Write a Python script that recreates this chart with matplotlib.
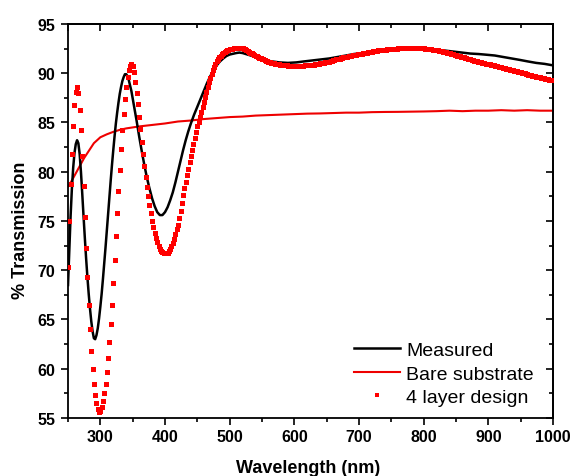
#!/usr/bin/env python3
""" Transmission spectra: measured coating, bare substrate and 4 layer design """

import numpy as np
import matplotlib
matplotlib.use("Agg")
import matplotlib.pyplot as plt
from matplotlib.ticker import MultipleLocator

# measured spectrum (black line)
measured_wl = [250, 252, 254, 256, 258, 260, 262, 264, 266, 268, 270, 272, 274, 276, 278,
               280, 282, 284, 286, 288, 290, 292, 294, 296, 298, 300, 302, 304, 306, 308,
               310, 312, 314, 316, 318, 320, 322, 324, 326, 328, 330, 332, 334, 336, 338,
               340, 342, 344, 348, 352, 356, 360, 364, 368, 372, 376, 380, 384, 388, 392,
               396, 400, 404, 408, 412, 416, 420, 424, 428, 432, 436, 440, 445, 450, 455,
               460, 465, 470, 475, 480, 485, 490, 495, 500, 510, 515, 520, 530, 540, 550,
               560, 577, 590, 603, 615, 628, 641, 654, 667, 680, 692, 705, 718, 731, 744,
               756, 769, 782, 795, 808, 820, 833, 846, 859, 872, 885, 897, 910, 923, 936,
               949, 961, 974, 987, 1000]
measured_t = [68.5, 72.0, 75.5, 78.3, 80.4, 81.9, 82.8, 83.2, 82.9, 81.8, 80.0, 77.8, 75.5, 73.3, 71.2,
              69.3, 67.6, 66.1, 64.8, 63.8, 63.1, 63.0, 63.4, 64.1, 65.1, 66.3, 67.6, 69.1, 70.7, 72.3,
              74.0, 75.7, 77.4, 79.1, 80.7, 82.2, 83.6, 84.9, 86.0, 87.0, 87.9, 88.6, 89.2, 89.6, 89.9,
              89.9, 89.7, 89.3, 88.2, 86.7, 85.2, 83.6, 82.1, 80.7, 79.4, 78.3, 77.3, 76.5, 75.9, 75.6,
              75.6, 75.9, 76.4, 77.1, 77.9, 78.9, 80.0, 81.1, 82.2, 83.2, 84.1, 84.9, 85.8, 86.6, 87.4,
              88.2, 89.0, 89.7, 90.3, 90.8, 91.2, 91.5, 91.75, 91.9, 92.05, 92.1, 92.05, 91.85, 91.65, 91.4,
              91.25, 91.1, 91.05, 91.1, 91.2, 91.3, 91.4, 91.5, 91.65, 91.8, 91.95, 92.05, 92.2, 92.3, 92.35,
              92.4, 92.45, 92.45, 92.45, 92.4, 92.35, 92.3, 92.2, 92.1, 92.0, 91.95, 91.88, 91.8, 91.65, 91.5,
              91.35, 91.2, 91.05, 90.95, 90.8]

# bare substrate (red line)
bare_wl = [250, 255, 260, 265, 270, 275, 280, 285, 290, 295, 300, 310, 320, 330, 340, 350,
           360, 380, 400, 420, 440, 460, 480, 500, 520, 540, 560, 580, 600, 620, 640, 660,
           680, 700, 720, 740, 760, 780, 800, 820, 840, 860, 880, 900, 920, 940, 960, 980, 1000]
bare_t = [78.5, 79.0, 79.6, 80.2, 80.8, 81.4, 81.9, 82.4, 82.9, 83.2, 83.5, 83.8, 84.05, 84.25, 84.4, 84.5,
          84.6, 84.75, 84.9, 85.1, 85.2, 85.35, 85.45, 85.55, 85.6, 85.7, 85.75, 85.8, 85.85, 85.9, 85.92, 85.96,
          86.0, 86.0, 86.05, 86.07, 86.08, 86.1, 86.12, 86.15, 86.2, 86.15, 86.2, 86.2, 86.25, 86.2, 86.25, 86.2, 86.2]

# 4 layer design (red squares), one point every 2 nm
design_wl = np.arange(250, 1001, 2)
design_t = [70.3, 75.0, 78.8, 81.8, 84.6, 86.8, 88.1, 88.6, 88.0, 86.3,   # 250-268
            84.2, 81.6, 78.6, 75.4, 72.3, 69.3, 66.5, 64.0, 61.8, 60.0,   # 270-288
            58.5, 57.3, 56.5, 55.9, 55.6, 55.7, 56.1, 56.7, 57.5, 58.5,   # 290-308
            59.7, 61.1, 62.7, 64.5, 66.5, 68.7, 71.0, 73.5, 75.8, 78.0,   # 310-328
            80.2, 82.3, 84.2, 85.9, 87.4, 88.6, 89.6, 90.3, 90.7, 90.9,   # 330-348
            90.7, 90.1, 89.1, 88.0, 86.9, 85.6, 84.3, 83.0, 81.8, 80.6,   # 350-368
            79.5, 78.5, 77.5, 76.6, 75.8, 75.0, 74.4, 73.8, 73.3, 72.9,   # 370-388
            72.5, 72.2, 72.0, 71.9, 71.8, 71.75, 71.75, 71.8, 72.0, 72.2,  # 390-408
            72.5, 72.8, 73.2, 73.7, 74.2, 74.6, 75.3, 76.0, 76.8, 77.6,   # 410-428
            78.3, 79.0, 79.7, 80.3, 81.0, 81.6, 82.2, 82.8, 83.4, 84.0,   # 430-448
            84.6, 85.1, 85.6, 86.1, 86.6, 87.1, 87.6, 88.1, 88.6, 89.1,   # 450-468
            89.5, 89.9, 90.3, 90.6, 90.9, 91.2, 91.4, 91.6, 91.8, 91.95,  # 470-488
            92.1, 92.2, 92.3, 92.35, 92.4,                                # 490-498
            92.45, 92.48, 92.5, 92.53, 92.55, 92.58, 92.6, 92.6, 92.6, 92.58,     # 500-518
            92.55, 92.5, 92.45, 92.38, 92.3, 92.2, 92.1, 92.03, 91.95, 91.88,     # 520-538
            91.8, 91.73, 91.65, 91.58, 91.5, 91.45, 91.4, 91.33, 91.25, 91.2,     # 540-558
            91.15, 91.1, 91.05, 91.02, 91.0, 90.97, 90.95, 90.92, 90.9, 90.87,    # 560-578
            90.85, 90.82, 90.8, 90.8, 90.8, 90.78, 90.75, 90.75, 90.75, 90.75,    # 580-598
            90.75, 90.75, 90.75, 90.75, 90.75, 90.75, 90.75, 90.75, 90.8, 90.8,   # 600-618
            90.8, 90.82, 90.85, 90.85, 90.85, 90.88, 90.9, 90.92, 90.95, 90.97,   # 620-638
            91.0, 91.02, 91.05, 91.07, 91.1, 91.12, 91.15, 91.17, 91.2, 91.25,    # 640-658
            91.3, 91.35, 91.4, 91.42, 91.45, 91.47, 91.5, 91.55, 91.6, 91.62,     # 660-678
            91.65, 91.67, 91.7, 91.75, 91.8, 91.82, 91.85, 91.87, 91.9, 91.92,    # 680-698
            91.95, 91.97, 92.0, 92.02, 92.05, 92.07, 92.1, 92.12, 92.15, 92.17,   # 700-718
            92.2, 92.22, 92.25, 92.27, 92.3, 92.31, 92.33, 92.34, 92.36, 92.38,   # 720-738
            92.4, 92.41, 92.43, 92.44, 92.46, 92.47, 92.48, 92.49, 92.5, 92.51,   # 740-758
            92.52, 92.53, 92.54, 92.54, 92.55, 92.55, 92.56, 92.56, 92.57, 92.57,  # 760-778
            92.57, 92.57, 92.57, 92.56, 92.56, 92.55, 92.55, 92.54, 92.54, 92.53,  # 780-798
            92.52, 92.51, 92.5, 92.48, 92.47, 92.45, 92.43, 92.41, 92.39, 92.36,  # 800-818
            92.34, 92.31, 92.29, 92.26, 92.23, 92.2, 92.17, 92.13, 92.1, 92.06,   # 820-838
            92.03, 91.99, 91.95, 91.91, 91.88, 91.84, 91.8, 91.76, 91.72, 91.68,  # 840-858
            91.64, 91.6, 91.56, 91.52, 91.48, 91.44, 91.4, 91.36, 91.32, 91.28,   # 860-878
            91.25, 91.21, 91.18, 91.14, 91.1, 91.07, 91.04, 91.01, 90.98, 90.95,  # 880-898
            90.92, 90.89, 90.86, 90.83, 90.8, 90.77, 90.74, 90.7, 90.67, 90.64,   # 900-918
            90.6, 90.57, 90.54, 90.5, 90.47, 90.43, 90.4, 90.36, 90.33, 90.29,    # 920-938
            90.26, 90.22, 90.19, 90.15, 90.12, 90.08, 90.05, 90.01, 89.98, 89.94,  # 940-958
            89.91, 89.87, 89.84, 89.8, 89.77, 89.73, 89.7, 89.66, 89.63, 89.6,    # 960-978
            89.57, 89.53, 89.5, 89.47, 89.44, 89.41, 89.38, 89.35, 89.33, 89.3,   # 980-998
            89.28]                                                              # 1000

x_ticks = [300, 400, 500, 600, 700, 800, 900, 1000]
y_ticks = [55, 60, 65, 70, 75, 80, 85, 90, 95]


def main():
    plt.rcParams['font.family'] = ['Liberation Sans', 'DejaVu Sans']
    fig = plt.figure(figsize=(5.72, 4.77), dpi=100)
    ax = fig.add_axes([0.1189, 0.1216, 0.8479, 0.826])

    ax.plot(measured_wl, measured_t, color='black', lw=1.8, label='Measured', zorder=3)
    ax.plot(bare_wl, bare_t, color='#ee0000', lw=1.5, label='Bare substrate', zorder=2)
    ax.plot(design_wl, design_t, ls='none', marker='s', ms=3.6, mew=0,
            color='#ff0000', label='4 layer design', zorder=4)

    ax.set_xlim(250, 1000)
    ax.set_ylim(55, 95)
    ax.set_xticks(x_ticks)
    ax.set_yticks(y_ticks)
    ax.xaxis.set_minor_locator(MultipleLocator(50))
    ax.yaxis.set_minor_locator(MultipleLocator(2.5))

    for s in ax.spines.values():
        s.set_linewidth(1.3)

    ax.tick_params(which='major', direction='out', length=5, width=1.2,
                   labelsize=11.5, top=False, right=False)
    ax.tick_params(which='minor', direction='out', length=3, width=1.2, top=False, right=False)
    ax.tick_params(axis='x', pad=3)
    ax.tick_params(axis='y', pad=4)
    for lab in ax.get_xticklabels() + ax.get_yticklabels():
        lab.set_fontweight('bold')

    # inward ticks on top and right
    top = ax.secondary_xaxis('top')
    top.set_xticks(x_ticks + [250])
    top.xaxis.set_minor_locator(MultipleLocator(50))
    top.tick_params(which='major', direction='in', length=5, width=1.2, labeltop=False)
    top.tick_params(which='minor', direction='in', length=3, width=1.2)
    top.spines['top'].set_linewidth(1.3)
    right = ax.secondary_yaxis('right')
    right.set_yticks(y_ticks)
    right.yaxis.set_minor_locator(MultipleLocator(2.5))
    right.tick_params(which='major', direction='in', length=5, width=1.2, labelright=False)
    right.tick_params(which='minor', direction='in', length=3, width=1.2)
    right.spines['right'].set_linewidth(1.3)

    ax.set_xlabel('Wavelength (nm)', fontsize=13, fontweight='bold')
    ax.set_ylabel('% Transmission', fontsize=13, fontweight='bold')
    ax.xaxis.set_label_coords(0.495, -0.103)
    ax.yaxis.set_label_coords(-0.081, 0.48)

    ax.legend(loc='lower right', bbox_to_anchor=(0.96, 0.03), frameon=False,
              fontsize=14, handlelength=2.35, handletextpad=0.3, labelspacing=0.3,
              borderpad=0, borderaxespad=0, numpoints=1, markerscale=0.9)

    fig.savefig('out.png', dpi=100)


if __name__ == "__main__":
    main()
